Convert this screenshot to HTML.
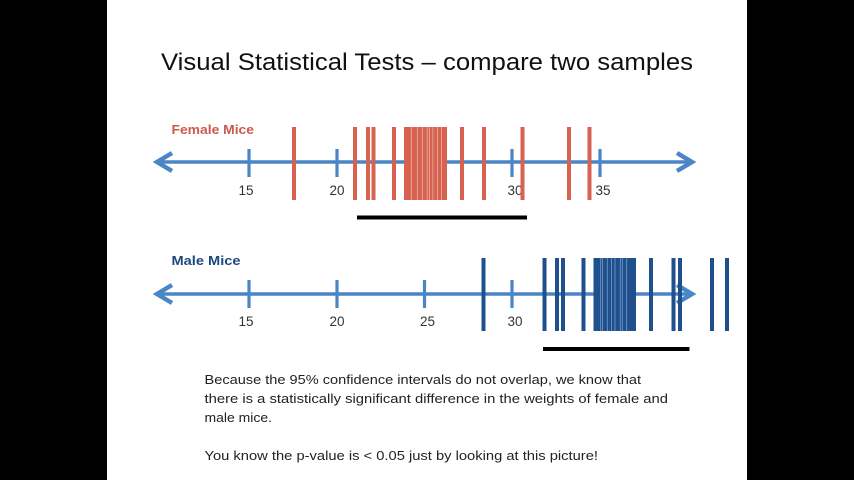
<!DOCTYPE html>
<html>
<head>
<meta charset="utf-8">
<style>
  html, body { margin: 0; padding: 0; background: #000; }
  svg { display: block; }
  text { font-family: "Liberation Sans", "DejaVu Sans", sans-serif; }
</style>
</head>
<body>
<svg width="854" height="480" viewBox="0 0 854 480" xmlns="http://www.w3.org/2000/svg">
  <rect x="0" y="0" width="854" height="480" fill="#000"/>
  <rect x="107" y="0" width="640" height="480" fill="#fff"/>

  <!-- Title -->
  <text x="161" y="70" font-size="24" fill="#111" textLength="532" lengthAdjust="spacingAndGlyphs">Visual Statistical Tests – compare two samples</text>

  <!-- ============ FEMALE ============ -->
  <text x="171.5" y="134" font-size="13" font-weight="bold" fill="#cc5a4e" textLength="82.5" lengthAdjust="spacingAndGlyphs">Female Mice</text>

  <!-- axis -->
  <g stroke="#4a86c6" fill="none">
    <line x1="158" y1="162" x2="690" y2="162" stroke-width="3.5"/>
    <polyline points="172,153 157,162 172,171" stroke-width="4.5" stroke-linejoin="miter" stroke-linecap="butt"/>
    <polyline points="677,153 692,162 677,171" stroke-width="4.5" stroke-linejoin="miter" stroke-linecap="butt"/>
    <g stroke-width="3.2">
      <line x1="249" y1="149" x2="249" y2="177"/>
      <line x1="337" y1="149" x2="337" y2="177"/>
      <line x1="425" y1="149" x2="425" y2="177"/>
      <line x1="512" y1="149" x2="512" y2="177"/>
      <line x1="600" y1="149" x2="600" y2="177"/>
    </g>
  </g>
  <g font-size="13.5" fill="#333" text-anchor="middle">
    <text x="246" y="195">15</text>
    <text x="337" y="195">20</text>
    <text x="426" y="195">25</text>
    <text x="515" y="195">30</text>
    <text x="603" y="195">35</text>
  </g>

  <!-- female bars -->
  <g fill="#d7624f">
    <rect x="292" y="127" width="4" height="73"/>
    <rect x="353" y="127" width="4" height="73"/>
    <rect x="366" y="127" width="4" height="73"/>
    <rect x="371.5" y="127" width="4" height="73"/>
    <rect x="392" y="127" width="4" height="73"/>
    <rect x="404" y="127" width="43" height="73"/>
    <rect x="460" y="127" width="4" height="73"/>
    <rect x="482" y="127" width="4" height="73"/>
    <rect x="520.5" y="127" width="4" height="73"/>
    <rect x="567" y="127" width="4" height="73"/>
    <rect x="587.5" y="127" width="4" height="73"/>
  </g>
  <g stroke="#f2c4bc" stroke-width="0.8" opacity="0.8">
    <line x1="411.3" y1="127" x2="411.3" y2="200"/>
    <line x1="417.3" y1="127" x2="417.3" y2="200"/>
    <line x1="422.3" y1="127" x2="422.3" y2="200"/>
    <line x1="427.2" y1="127" x2="427.2" y2="200"/>
    <line x1="429.6" y1="127" x2="429.6" y2="200"/>
    <line x1="432.9" y1="127" x2="432.9" y2="200"/>
    <line x1="437.5" y1="127" x2="437.5" y2="200"/>
    <line x1="441.5" y1="127" x2="441.5" y2="200"/>
  </g>
  <!-- female CI bar -->
  <rect x="357" y="215.5" width="170" height="4" fill="#000"/>

  <!-- ============ MALE ============ -->
  <text x="171.5" y="265" font-size="13" font-weight="bold" fill="#1f497d" textLength="69" lengthAdjust="spacingAndGlyphs">Male Mice</text>

  <g stroke="#4a86c6" fill="none">
    <line x1="158" y1="294" x2="689" y2="294" stroke-width="3.5"/>
    <polyline points="172,285 157,294 172,303" stroke-width="4.5" stroke-linejoin="miter" stroke-linecap="butt"/>
    <polyline points="677,285 692,294 677,303" stroke-width="4.5" stroke-linejoin="miter" stroke-linecap="butt"/>
    <g stroke-width="3.2">
      <line x1="249" y1="280" x2="249" y2="308"/>
      <line x1="337" y1="280" x2="337" y2="308"/>
      <line x1="424.5" y1="280" x2="424.5" y2="308"/>
      <line x1="512" y1="280" x2="512" y2="308"/>
      <line x1="600" y1="280" x2="600" y2="308"/>
    </g>
  </g>
  <g font-size="13.5" fill="#333" text-anchor="middle">
    <text x="246" y="326">15</text>
    <text x="337" y="326">20</text>
    <text x="427.5" y="326">25</text>
    <text x="515" y="326">30</text>
    <text x="603" y="326">35</text>
  </g>

  <!-- male bars -->
  <g fill="#1f4f8c">
    <rect x="481.5" y="258" width="4" height="73"/>
    <rect x="542.5" y="258" width="4" height="73"/>
    <rect x="555" y="258" width="4" height="73"/>
    <rect x="561" y="258" width="4" height="73"/>
    <rect x="581.5" y="258" width="4" height="73"/>
    <rect x="593.5" y="258" width="42.5" height="73"/>
    <rect x="649" y="258" width="4" height="73"/>
    <rect x="671.5" y="258" width="4" height="73"/>
    <rect x="678" y="258" width="4" height="73"/>
    <rect x="710" y="258" width="4" height="73"/>
    <rect x="725" y="258" width="4" height="73"/>
  </g>
  <g stroke="#8fb0d6" stroke-width="0.8" opacity="0.8">
    <line x1="600.7" y1="258" x2="600.7" y2="331"/>
    <line x1="602.5" y1="258" x2="602.5" y2="331"/>
    <line x1="607.3" y1="258" x2="607.3" y2="331"/>
    <line x1="611.5" y1="258" x2="611.5" y2="331"/>
    <line x1="615" y1="258" x2="615" y2="331"/>
    <line x1="620.3" y1="258" x2="620.3" y2="331"/>
    <line x1="622.3" y1="258" x2="622.3" y2="331"/>
    <line x1="626.7" y1="258" x2="626.7" y2="331"/>
  </g>
  <!-- male CI bar -->
  <rect x="543" y="347" width="146.5" height="4" fill="#000"/>

  <!-- ============ BODY TEXT ============ -->
  <g font-size="12.5" fill="#222">
    <text x="204.5" y="384" textLength="436.5" lengthAdjust="spacingAndGlyphs">Because the 95% confidence intervals do not overlap, we know that</text>
    <text x="204.5" y="403" textLength="463.5" lengthAdjust="spacingAndGlyphs">there is a statistically significant difference in the weights of female and</text>
    <text x="204.5" y="422" textLength="67.5" lengthAdjust="spacingAndGlyphs">male mice.</text>
    <text x="204.5" y="460" textLength="393.5" lengthAdjust="spacingAndGlyphs">You know the p-value is &lt; 0.05 just by looking at this picture!</text>
  </g>
</svg>
</body>
</html>
